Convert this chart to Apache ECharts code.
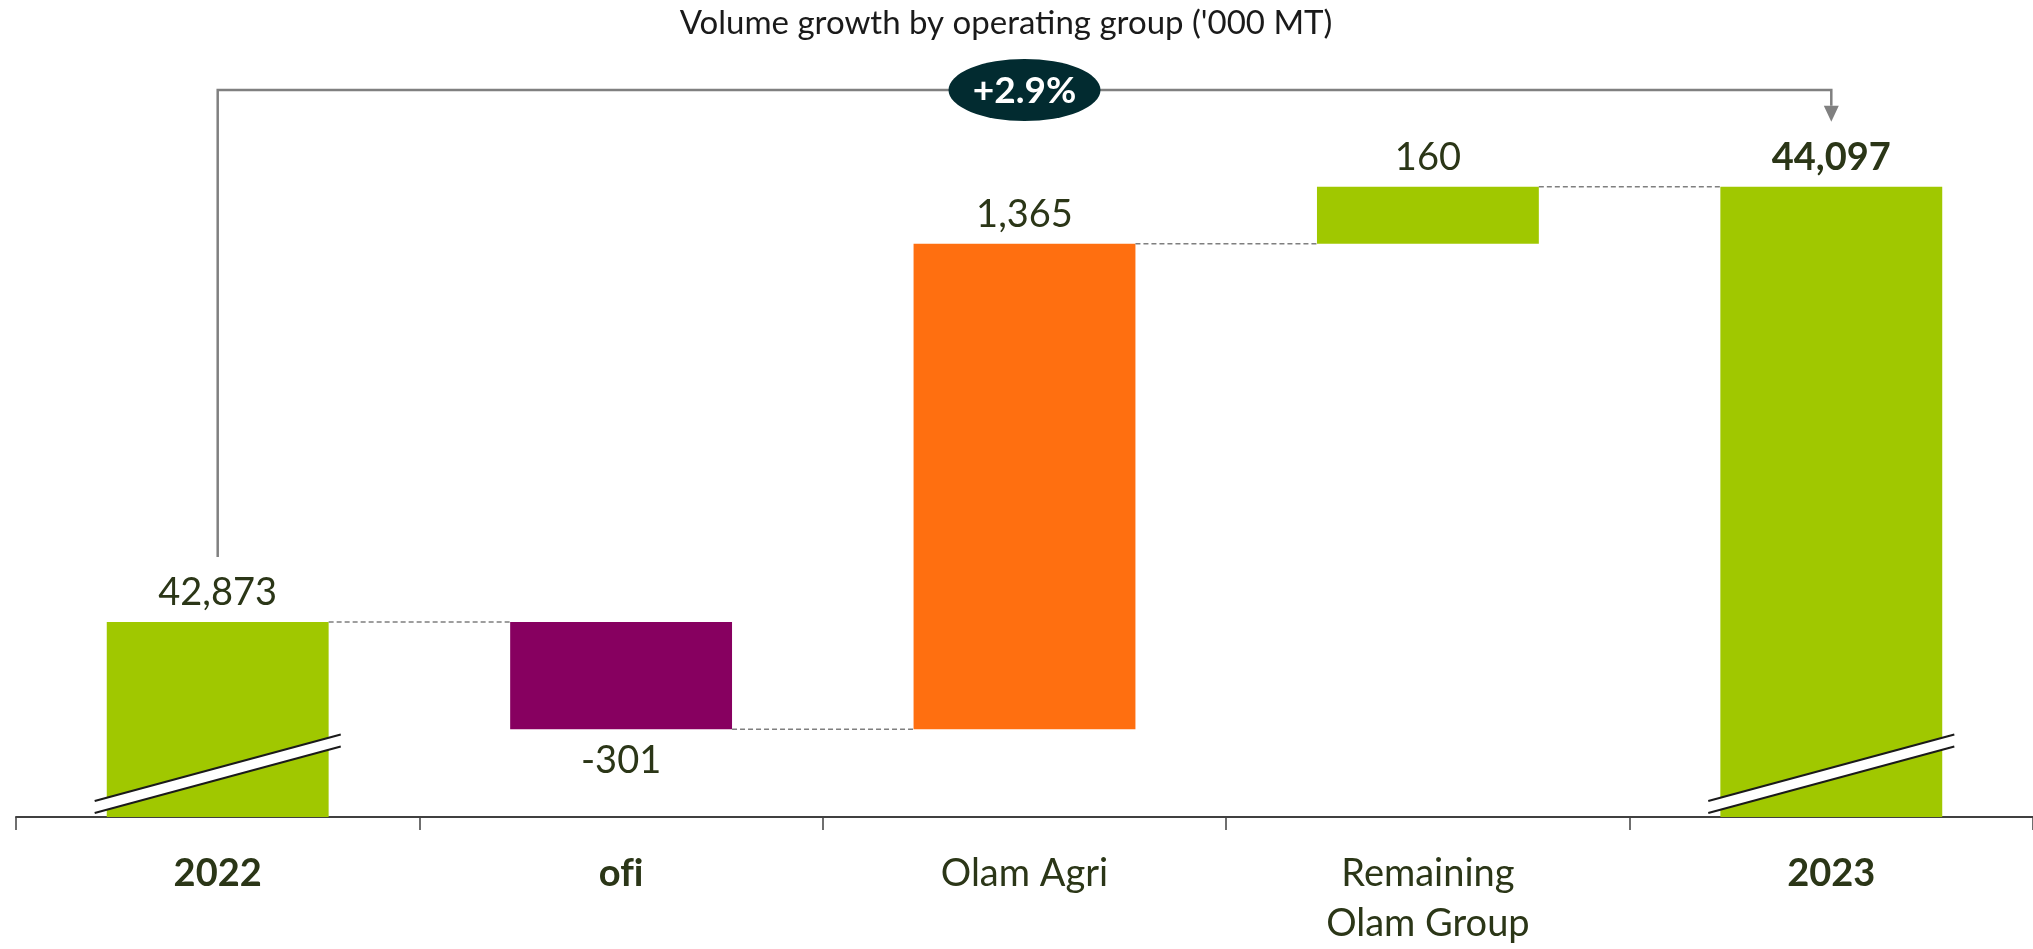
<!DOCTYPE html>
<html><head><meta charset="utf-8">
<script src="https://cdn.jsdelivr.net/npm/echarts@6/dist/echarts.min.js"></script>
<style>html,body{margin:0;padding:0;background:#fff}#c{width:2033px;height:949px}</style>
</head><body><div id="c"></div>
<script>
// ---- data ----
const categories = ['2022', 'ofi', 'Olam Agri', 'Remaining\nOlam Group', '2023'];
const values = [42873, -301, 1365, 160, 44097];
const isTotal = [true, false, false, false, true];
const boldCats = ['2022', 'ofi', '2023'];
const boldValueLabels = [false, false, false, false, true];
const growthLabel = '+2.9%';
const titleText = "Volume growth by operating group ('000 MT)";

// ---- style ----
const FONT = 'Lato';
const TEXT = '#2b3617';
const barColors = ['#A0C800', '#870060', '#FF6F10', '#A0C800', '#A0C800'];
const Y_MIN = 42325, Y_MAX = 44400;
const BAR_FRAC = 0.55;

// ---- derive waterfall ----
const base = [], vis = [], levels = [];
let run = 0;
values.forEach((v, i) => {
  if (isTotal[i]) { base.push(0); vis.push(v); run = v; }
  else { const nr = run + v; base.push(Math.min(run, nr)); vis.push(Math.abs(v)); run = nr; }
  levels.push(run);
});

// avoid the "fi" ligature so labels read as plain letters
const noLig = s => s.replace(/fi/g, 'f\u200Ci');

const chart = echarts.init(document.getElementById('c'), null, {renderer: 'canvas'});

const option = {
  animation: false,
  grid: {left: 16, width: 2025, top: 79, bottom: 129, containLabel: false},
  graphic: [{
    type: 'text', x: 1006, y: 23,
    style: {text: titleText, align: 'center', verticalAlign: 'middle',
      fontFamily: FONT, fontSize: 33, fill: '#1a1a1a'}
  }],
  xAxis: {
    type: 'category', data: categories,
    axisLine: {lineStyle: {color: '#404040', width: 2}},
    axisTick: {show: true, length: 13, lineStyle: {color: '#404040', width: 1.5}},
    axisLabel: {
      interval: 0, margin: 32, fontFamily: FONT, fontSize: 38, lineHeight: 50, color: TEXT,
      formatter: v => boldCats.includes(v) ? '{b|' + noLig(v) + '}' : noLig(v),
      rich: {b: {fontFamily: FONT, fontSize: 38, lineHeight: 50, fontWeight: 'bold', color: TEXT}}
    }
  },
  yAxis: {type: 'value', min: Y_MIN, max: Y_MAX, show: false, splitLine: {show: false}},
  series: [
    {
      type: 'bar', stack: 'w', barWidth: (BAR_FRAC * 100) + '%', silent: true,
      itemStyle: {color: 'rgba(0,0,0,0)'}, data: base
    },
    {
      type: 'bar', stack: 'w', barWidth: (BAR_FRAC * 100) + '%', clip: true,
      data: vis.map((v, i) => ({
        value: v,
        itemStyle: {color: barColors[i]},
        label: {
          show: true,
          position: values[i] < 0 ? 'bottom' : 'top',
          distance: values[i] < 0 ? 13 : 10,
          fontWeight: boldValueLabels[i] ? 'bold' : 'normal'
        }
      })),
      label: {
        fontFamily: FONT, fontSize: 38, color: TEXT,
        formatter: p => values[p.dataIndex].toLocaleString('en-US')
      }
    },
    {
      // dashed connectors
      type: 'custom', clip: false, z: 5,
      data: levels.slice(0, levels.length - 1).map((l, i) => [i, l]),
      renderItem: (params, api) => {
        const i = api.value(0), l = api.value(1);
        const p0 = api.coord([i, l]), p1 = api.coord([i + 1, l]);
        const bw = api.size([1, 0])[0] * BAR_FRAC;
        return {type: 'line', shape: {x1: p0[0] + bw / 2, y1: p0[1], x2: p1[0] - bw / 2, y2: p1[1]},
          style: {stroke: '#7f7f7f', lineWidth: 1.5, lineDash: [5, 3]}};
      }
    },
    {
      // axis break marks on total bars
      type: 'custom', clip: false, z: 6,
      data: isTotal.map((t, i) => t ? [i, Y_MIN] : null).filter(d => d),
      renderItem: (params, api) => {
        const p = api.coord([api.value(0), api.value(1)]);
        const cx = p[0], y = p[1];
        const hl = api.size([1, 0])[0] * 0.305;
        const a1 = [cx - hl, y - 16], b1 = [cx + hl, y - 82.5];
        const a2 = [cx - hl, y - 4], b2 = [cx + hl, y - 70.5];
        return {type: 'group', children: [
          {type: 'polygon', shape: {points: [a1, b1, b2, a2]}, style: {fill: '#fff'}},
          {type: 'line', shape: {x1: a1[0], y1: a1[1], x2: b1[0], y2: b1[1]}, style: {stroke: '#1a1a1a', lineWidth: 2}},
          {type: 'line', shape: {x1: a2[0], y1: a2[1], x2: b2[0], y2: b2[1]}, style: {stroke: '#1a1a1a', lineWidth: 2}}
        ]};
      }
    },
    {
      // growth bracket
      type: 'custom', clip: false, z: 7,
      data: [[0, values[0]]],
      renderItem: (params, api) => {
        const last = values.length - 1;
        const pL = api.coord([0, values[0]]);
        const pR = api.coord([last, values[last]]);
        const topY = 90;
        const tipY = pR[1] - 65;
        const midX = (pL[0] + pR[0]) / 2;
        return {type: 'group', children: [
          {type: 'polyline', shape: {points: [[pL[0], pL[1] - 65], [pL[0], topY], [pR[0], topY], [pR[0], tipY - 16]]},
            style: {stroke: '#808080', lineWidth: 2.5, fill: null}},
          {type: 'polygon', shape: {points: [[pR[0] - 7.5, tipY - 16], [pR[0] + 7.5, tipY - 16], [pR[0], tipY]]},
            style: {fill: '#808080'}},
          {type: 'circle', x: midX, y: topY, scaleX: 76 / 31, shape: {cx: 0, cy: 0, r: 31}, style: {fill: '#022B30'}},
          {type: 'text', x: midX, y: topY + 1, style: {text: growthLabel, fill: '#fff', fontFamily: FONT,
            fontSize: 37, fontWeight: 'bold', align: 'center', verticalAlign: 'middle'}}
        ]};
      }
    }
  ]
};
chart.setOption(option);
</script>
</body></html>
